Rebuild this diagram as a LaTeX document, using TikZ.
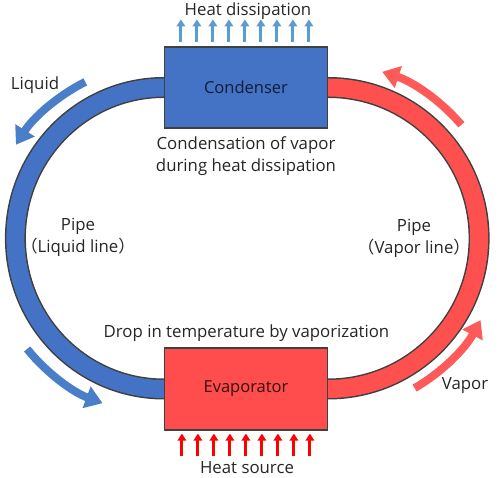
\documentclass[tikz,border=0pt]{standalone}
\usepackage{fontspec}
\setmainfont{Open Sans}
\newfontfamily\cjk{Noto Sans CJK JP}
\usetikzlibrary{arrows.meta,calc,backgrounds}
\definecolor{pipeblue}{RGB}{68,114,196}
\definecolor{pipered}{RGB}{255,80,80}
\definecolor{boxred}{RGB}{255,77,77}
\definecolor{flowblue}{RGB}{74,126,200}
\definecolor{flowred}{RGB}{255,90,90}
\definecolor{hdblue}{RGB}{91,155,213}
\definecolor{hsred}{RGB}{255,0,0}
\definecolor{edge}{RGB}{64,64,64}
\definecolor{txt}{RGB}{38,38,38}
\definecolor{condtxt}{RGB}{16,28,56}
\definecolor{evaptxt}{RGB}{50,16,16}
\begin{document}
\begin{tikzpicture}[x=1pt,y=1pt,
  lbl/.style={text=txt,font=\fontsize{16.8}{22}\selectfont,inner sep=0pt,align=center},
  unitbox/.style={draw=edge,line width=1.2pt,minimum width=163pt,inner sep=0pt,font=\fontsize{16.5}{20}\selectfont},
  pipeedge/.style={draw=edge,line width=21pt},
  pipeblueline/.style={draw=pipeblue,line width=18pt},
  piperedline/.style={draw=pipered,line width=18pt},
  flowarrowblue/.style={draw=flowblue,line width=8pt,-{Triangle[width=22pt,length=17pt]}},
  flowarrowred/.style={draw=flowred,line width=8pt,-{Triangle[width=22pt,length=17pt]}},
  hdarrow/.style={draw=hdblue,line width=3pt,-{Triangle[width=8.5pt,length=7pt]}},
  hsarrow/.style={draw=hsred,line width=3pt,-{Triangle[width=8.5pt,length=7pt]}}]
\useasboundingbox (0,0) rectangle (504,478);

\node[unitbox,fill=pipeblue,minimum height=81pt,text=condtxt] (cond) at (246,390.5) {Condenser};
\node[unitbox,fill=boxred,minimum height=82pt,text=evaptxt] (evap) at (246,89) {Evaporator};

\coordinate (lc) at ($(cond.west)!0.5!(evap.west)$);
\coordinate (rc) at ($(cond.east)!0.5!(evap.east)$);

\begin{scope}[on background layer]
  \fill[white] (0,0) rectangle (504,478);
  \draw[pipeedge] (cond.center) -- (cond.west) arc[start angle=90,end angle=270,x radius=148.5,y radius=150.75] -- (evap.center);
  \draw[pipeedge] (cond.center) -- (cond.east) arc[start angle=90,end angle=-90,x radius=151,y radius=150.75] -- (evap.center);
  \draw[pipeblueline] (cond.center) -- (cond.west) arc[start angle=90,end angle=270,x radius=148.5,y radius=150.75] -- (evap.center);
  \draw[piperedline] (cond.center) -- (cond.east) arc[start angle=90,end angle=-90,x radius=151,y radius=150.75] -- (evap.center);
\end{scope}

% flow arrows
\draw[flowarrowblue] ($(lc)+(116.7:175)$) arc[start angle=116.7,end angle=147.7,radius=175];
\draw[flowarrowblue] ($(lc)+(219:176)$) arc[start angle=219,end angle=249.6,radius=176];
\draw[flowarrowred] ($(rc)+(-60:173)$) arc[start angle=-60,end angle=-28.2,radius=173];
\draw[flowarrowred] ($(rc)+(40.4:175)$) arc[start angle=40.4,end angle=72,radius=175];

% heat arrows
\foreach \i in {0,...,8} {
  \draw[hdarrow] ($(cond.north west)+(17+16*\i,4)$) -- ++(0,23);
  \draw[hsarrow] ($(evap.south west)+(18+16*\i,-25)$) -- ++(0,22);
}

% labels
\node[lbl] (hd) at (248,467) {Heat dissipation};
\node[lbl] (hs) at (247,10) {Heat source};
\node[lbl] (cv) at (246,322) {Condensation of vapor\\during heat dissipation};
\node[lbl] (dt) at (246.5,145) {Drop in temperature by vaporization};
\node[lbl] (pl) at (78,241) {Pipe\\{\cjk （}Liquid line{\cjk ）}};
\node[lbl] (pv) at (414,240) {Pipe\\{\cjk （}Vapor line{\cjk ）}};
\node[lbl] (lq) at (35,393) {Liquid};
\node[lbl] (vp) at (465,92) {Vapor};
\end{tikzpicture}
\end{document}
